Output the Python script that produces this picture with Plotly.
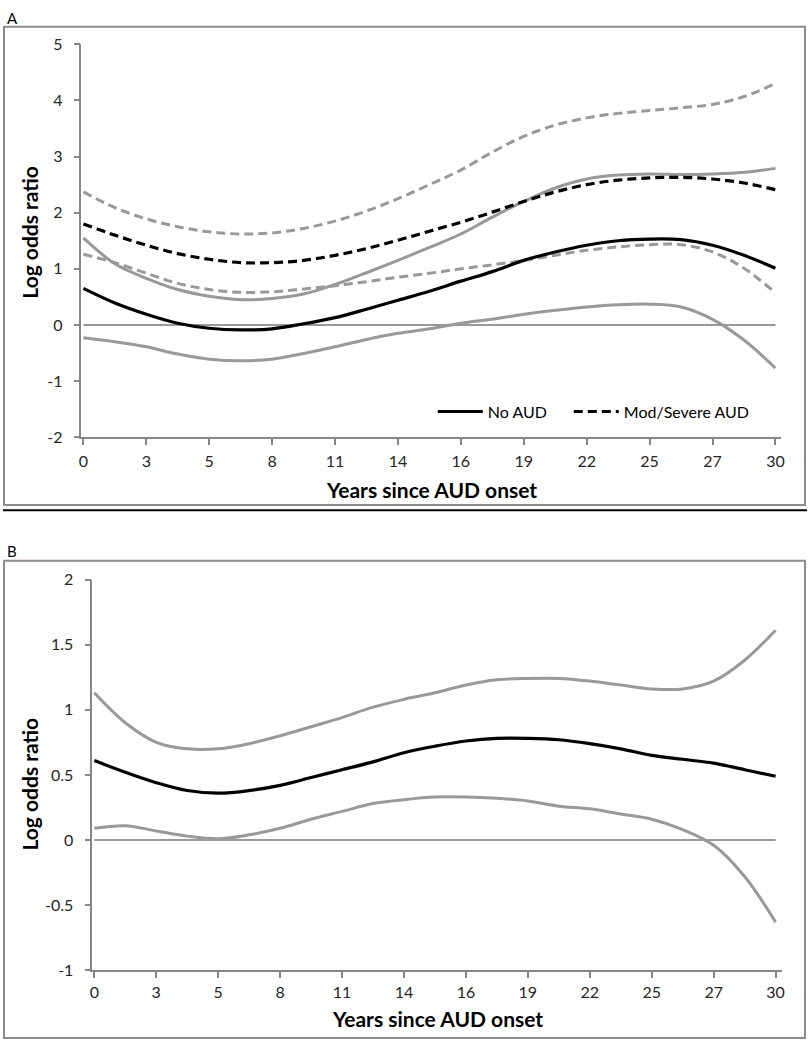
import numpy as np
import plotly.graph_objects as go

# ---------------- data ----------------
tick_labels = ["0", "3", "5", "8", "11", "14", "16", "19", "22", "25", "27", "30"]
# sample positions: every half category step between 0 and 30 years
n_points = 23
years = np.linspace(0, 30, n_points)

# Panel A
a_no_aud = [0.65, 0.39, 0.19, 0.03, -0.06, -0.09, -0.07, 0.02, 0.13, 0.28, 0.44, 0.60,
            0.78, 0.95, 1.15, 1.30, 1.42, 1.50, 1.53, 1.52, 1.42, 1.24, 1.01]
a_no_aud_upper = [1.55, 1.09, 0.83, 0.63, 0.51, 0.45, 0.47, 0.55, 0.72, 0.93, 1.15, 1.38,
                  1.62, 1.92, 2.20, 2.44, 2.60, 2.67, 2.69, 2.68, 2.69, 2.72, 2.79]
a_no_aud_lower = [-0.23, -0.30, -0.39, -0.52, -0.61, -0.64, -0.61, -0.51, -0.39, -0.26, -0.15, -0.07,
                  0.03, 0.10, 0.19, 0.26, 0.32, 0.36, 0.37, 0.32, 0.10, -0.27, -0.77]
a_mod_sev = [1.80, 1.60, 1.42, 1.27, 1.17, 1.11, 1.11, 1.15, 1.24, 1.36, 1.51, 1.67,
             1.83, 2.01, 2.20, 2.37, 2.50, 2.58, 2.62, 2.63, 2.60, 2.53, 2.41]
a_mod_sev_upper = [2.37, 2.09, 1.89, 1.75, 1.66, 1.62, 1.64, 1.72, 1.85, 2.03, 2.25, 2.50,
                   2.76, 3.08, 3.36, 3.56, 3.69, 3.77, 3.82, 3.87, 3.93, 4.07, 4.30]
a_mod_sev_lower = [1.26, 1.11, 0.92, 0.74, 0.63, 0.58, 0.59, 0.64, 0.70, 0.77, 0.85, 0.92,
                   1.00, 1.07, 1.15, 1.24, 1.33, 1.39, 1.43, 1.43, 1.30, 1.01, 0.57]

# Panel B
b_est = [0.61, 0.52, 0.44, 0.38, 0.36, 0.38, 0.42, 0.48, 0.54, 0.60, 0.67, 0.72,
         0.76, 0.78, 0.78, 0.77, 0.74, 0.70, 0.65, 0.62, 0.59, 0.54, 0.49]
b_upper = [1.13, 0.90, 0.75, 0.70, 0.70, 0.74, 0.80, 0.87, 0.94, 1.02, 1.08, 1.13,
           1.19, 1.23, 1.24, 1.24, 1.22, 1.19, 1.16, 1.16, 1.22, 1.38, 1.61]
b_lower = [0.09, 0.11, 0.07, 0.03, 0.01, 0.04, 0.09, 0.16, 0.22, 0.28, 0.31, 0.33,
           0.33, 0.32, 0.30, 0.26, 0.24, 0.20, 0.16, 0.08, -0.04, -0.28, -0.63]

a_ytick_vals = [-2, -1, 0, 1, 2, 3, 4, 5]
a_ytick_text = ["-2", "-1", "0", "1", "2", "3", "4", "5"]
b_ytick_vals = [-1, -0.5, 0, 0.5, 1, 1.5, 2]
b_ytick_text = ["-1", "-0.5", "0", "0.5", "1", "1.5", "2"]

# ---------------- figure ----------------
W, H = 810, 1050
FONT = "Lato, 'Open Sans', sans-serif"
GRAY = "#999999"
AX = "#868686"
tickvals_x = [i * 30 / 11 for i in range(len(tick_labels))]


def px(x):
    return x / W


def py(y):
    return 1 - y / H


fig = go.Figure()


def add_line(xa, ya, y, color, width, dash="solid", name=None, legend=None):
    kw = {}
    if legend:
        kw["legend"] = legend
    fig.add_trace(go.Scatter(
        x=years, y=y, mode="lines", xaxis=xa, yaxis=ya,
        line=dict(color=color, width=width, dash=dash, shape="spline", smoothing=1.0),
        name=name, showlegend=bool(legend), hoverinfo="skip", **kw))


# zero reference lines
for xa, ya in (("x", "y"), ("x2", "y2")):
    fig.add_trace(go.Scatter(x=[years[0], years[-1]], y=[0, 0], mode="lines",
                             xaxis=xa, yaxis=ya, line=dict(color=GRAY, width=2),
                             showlegend=False, hoverinfo="skip"))

DASH = "9px,5px"
add_line("x", "y", a_no_aud_lower, GRAY, 3)
add_line("x", "y", a_no_aud_upper, GRAY, 3)
add_line("x", "y", a_mod_sev_lower, GRAY, 3, DASH)
add_line("x", "y", a_mod_sev_upper, GRAY, 3, DASH)
add_line("x", "y", a_no_aud, "black", 3.2, "solid", "No AUD", "legend")
add_line("x", "y", a_mod_sev, "black", 3.2, DASH, "Mod/Severe AUD", "legend2")

add_line("x2", "y2", b_lower, GRAY, 3)
add_line("x2", "y2", b_upper, GRAY, 3)
add_line("x2", "y2", b_est, "black", 3.2)

tickfont = dict(family=FONT, size=16, color="#262626")
common_x = dict(tickmode="array", tickvals=tickvals_x, ticktext=tick_labels,
                showline=True, linecolor=AX, linewidth=1.5, ticks="outside",
                ticklen=6, tickcolor=AX, tickwidth=1.5, showgrid=False, zeroline=False,
                tickfont=tickfont, fixedrange=True)
common_y = dict(tickmode="array", showline=True, linecolor=AX, linewidth=1.5,
                ticks="outside", ticklen=6, tickcolor=AX, tickwidth=1.5,
                showgrid=False, zeroline=False, tickfont=tickfont, fixedrange=True,
                ticklabelstandoff=8)

legend_common = dict(orientation="h", xanchor="left", yanchor="middle",
                     font=dict(family=FONT, size=16, color="#000000"),
                     bgcolor="rgba(0,0,0,0)", borderwidth=0, itemwidth=45)

fig.update_layout(
    width=W, height=H,
    margin=dict(l=0, r=0, t=0, b=0),
    paper_bgcolor="white", plot_bgcolor="white",
    font=dict(family=FONT, color="#000000"),
    xaxis=dict(domain=[px(79), px(784)], range=[-0.086, 30.25], anchor="y",
               ticklabelstandoff=3, **common_x),
    yaxis=dict(domain=[py(435), py(35)], range=[-2, 5], anchor="x",
               tickvals=a_ytick_vals, ticktext=a_ytick_text, **common_y),
    xaxis2=dict(domain=[px(90), px(785)], range=[-0.087, 30.29], anchor="y2",
                ticklabelstandoff=1, **common_x),
    yaxis2=dict(domain=[py(978), py(580)], range=[-1, 2], anchor="x2",
                tickvals=b_ytick_vals, ticktext=b_ytick_text, **common_y),
    legend=dict(x=px(433), y=py(409), **legend_common),
    legend2=dict(x=px(570), y=py(409), **legend_common),
    showlegend=True,
)

shapes = [
    dict(type="rect", xref="paper", yref="paper", x0=px(1), x1=px(808), y0=py(17), y1=py(504),
         line=dict(color="#8c8c8c", width=2)),
    dict(type="line", xref="paper", yref="paper", x0=0, x1=1, y0=py(509.5), y1=py(509.5),
         line=dict(color="black", width=2)),
    dict(type="rect", xref="paper", yref="paper", x0=px(1), x1=px(808), y0=py(561), y1=py(1047),
         line=dict(color="#8c8c8c", width=2)),
]
fig.update_layout(shapes=shapes)

annots = [
    dict(text="A", x=px(2), y=py(8), xanchor="left", yanchor="middle",
         font=dict(family=FONT, size=15, color="#000")),
    dict(text="B", x=px(2), y=py(551), xanchor="left", yanchor="middle",
         font=dict(family=FONT, size=15, color="#000")),
    dict(text="<b>Years since AUD onset</b>", x=px(432), y=py(488), xanchor="center",
         yanchor="middle", font=dict(family=FONT, size=21, color="#000")),
    dict(text="<b>Years since AUD onset</b>", x=px(438), y=py(1027), xanchor="center",
         yanchor="middle", font=dict(family=FONT, size=21, color="#000")),
    dict(text="<b>Log odds ratio</b>", x=px(27), y=py(226), xanchor="center",
         yanchor="middle", textangle=-90, font=dict(family=FONT, size=21, color="#000")),
    dict(text="<b>Log odds ratio</b>", x=px(27), y=py(788), xanchor="center",
         yanchor="middle", textangle=-90, font=dict(family=FONT, size=21, color="#000")),
]
for a in annots:
    a.update(xref="paper", yref="paper", showarrow=False)
fig.update_layout(annotations=annots)

fig.write_html(
    "out.html",
    config={"displayModeBar": False},
    post_script="document.body.style.margin='0';document.body.style.overflow='hidden';",
)
